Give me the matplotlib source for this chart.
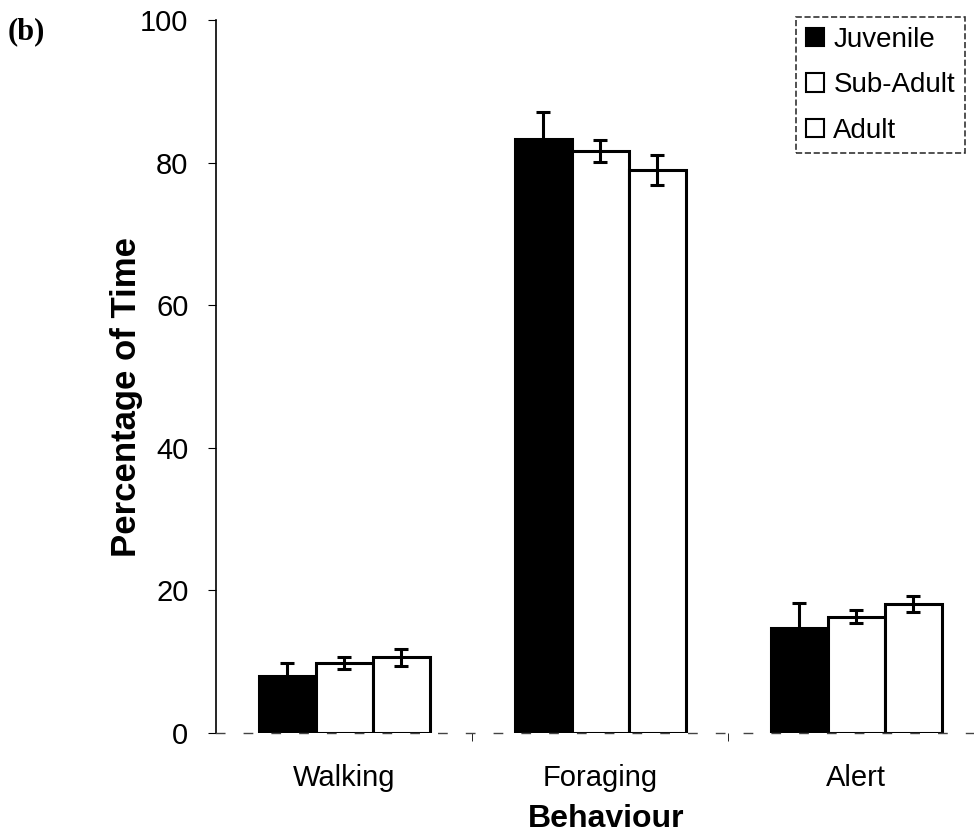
import numpy as np
import matplotlib.pyplot as plt
from matplotlib.patches import Patch

plt.rcParams["font.family"] = ["Liberation Sans", "DejaVu Sans"]

# datos
conductas = ["Walking", "Foraging", "Alert"]
grupos = ["Juvenile", "Sub-Adult", "Adult"]
juvenil = [8.0, 83.3, 14.7]
juvenil_err = [1.8, 3.8, 3.5]
subadulto = [9.8, 81.6, 16.3]
subadulto_err = [0.8, 1.5, 0.9]
adulto = [10.6, 78.9, 18.1]
adulto_err = [1.2, 2.1, 1.1]

valores = [juvenil, subadulto, adulto]
errores = [juvenil_err, subadulto_err, adulto_err]
colores = ["black", "white", "white"]

fig = plt.figure(figsize=(9.74, 8.39), dpi=100)
ax = fig.add_axes([0.222, 0.1263, 0.778, 0.8499])

x = np.arange(len(conductas))
ancho = 0.223
for i, (vals, errs, col) in enumerate(zip(valores, errores, colores)):
    ax.bar(x + (i - 1) * ancho, vals, width=ancho, color=col,
           edgecolor="black", linewidth=2.2, zorder=2)
    ax.errorbar(x + (i - 1) * ancho, vals, yerr=errs, fmt="none",
                ecolor="black", elinewidth=2.2, capsize=5, capthick=2.2, zorder=3)

ax.set_xlim(-0.5, 2.46)
ax.set_ylim(0, 100)
ax.set_yticks([0, 20, 40, 60, 80, 100])
ax.set_xticks(x)
ax.set_xticklabels(conductas, fontsize=21)
ax.set_xticks([0.5, 1.5], minor=True)
ax.tick_params(axis="x", which="major", length=0, pad=22)
ax.tick_params(axis="x", which="minor", length=6, direction="out")
ax.tick_params(axis="y", labelsize=21, length=6, pad=14)

ax.spines["top"].set_visible(False)
ax.spines["right"].set_visible(False)
ax.spines["left"].set_linewidth(1.2)
ax.spines["bottom"].set_linewidth(1.0)
ax.spines["bottom"].set_linestyle((0, (6, 14)))
ax.spines["bottom"].set_color("#444444")

# posiciones de las etiquetas de los ejes como en la figura original
ax.set_ylabel("Percentage of Time", fontsize=25, fontweight="bold", va="center")
ax.yaxis.set_label_coords(-0.118, 0.471)
ax.set_xlabel("Behaviour", fontsize=23, fontweight="bold", va="center")
ax.xaxis.set_label_coords(0.515, -0.12)

fig.text(0.008, 0.962, "(b)", fontsize=22, fontweight="bold",
         family=["Liberation Serif", "DejaVu Serif"], va="center", ha="left")

handles = [Patch(facecolor=c, edgecolor="black", linewidth=1.5) for c in colores]
leg = ax.legend(handles, grupos, loc="upper right", bbox_to_anchor=(0.995, 1.012),
                fontsize=20, frameon=True, fancybox=False, handlelength=0.65,
                handleheight=0.65, handletextpad=0.35, borderpad=0.35, labelspacing=0.7,
                borderaxespad=0.2)
leg.get_frame().set_edgecolor("black")
leg.get_frame().set_linestyle("--")
leg.get_frame().set_linewidth(1.2)

plt.savefig("out.png", dpi=100)
